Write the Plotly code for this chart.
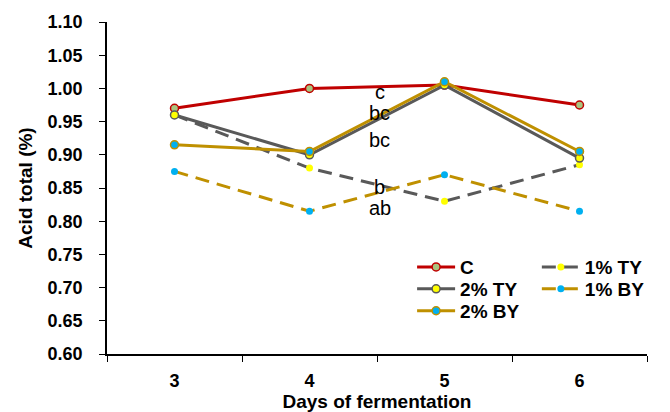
import plotly.graph_objects as go

days = ["3", "4", "5", "6"]
c_vals = [0.970, 1.000, 1.005, 0.975]
ty1_vals = [0.960, 0.880, 0.830, 0.885]
ty2_vals = [0.960, 0.900, 1.005, 0.895]
by1_vals = [0.875, 0.815, 0.870, 0.815]
by2_vals = [0.915, 0.905, 1.010, 0.905]
sig_labels = ["c", "bc", "bc", "b", "ab"]
sig_y = [0.995, 0.963, 0.922, 0.851, 0.820]
y_ticks = [0.60, 0.65, 0.70, 0.75, 0.80, 0.85, 0.90, 0.95, 1.00, 1.05, 1.10]

RED = "#C00000"
GRAY = "#595959"
GOLD = "#BF9000"
CYAN = "#00B0F0"
YEL = "#FFFF00"
GREEN = "#A9C47F"
FONT = "Liberation Sans"
DASH = "14px,8px"

fig = go.Figure()
fig.add_trace(go.Scatter(x=days, y=c_vals, name="C", mode="lines+markers", legend="legend",
                         line=dict(color=RED, width=3),
                         marker=dict(size=8, color=GREEN, line=dict(color=RED, width=1.5))))
fig.add_trace(go.Scatter(x=days, y=ty1_vals, name="1% TY", mode="lines+markers", legend="legend4",
                         line=dict(color=GRAY, width=3, dash=DASH),
                         marker=dict(size=7, color=YEL, line=dict(color=YEL, width=0))))
fig.add_trace(go.Scatter(x=days, y=ty2_vals, name="2% TY", mode="lines+markers", legend="legend2",
                         line=dict(color=GRAY, width=3),
                         marker=dict(size=8, color=YEL, line=dict(color=GRAY, width=1.5))))
fig.add_trace(go.Scatter(x=days, y=by1_vals, name="1% BY", mode="lines+markers", legend="legend5",
                         line=dict(color=GOLD, width=3, dash=DASH),
                         marker=dict(size=7, color=CYAN, line=dict(color=CYAN, width=0))))
fig.add_trace(go.Scatter(x=days, y=by2_vals, name="2% BY", mode="lines+markers", legend="legend3",
                         line=dict(color=GOLD, width=3),
                         marker=dict(size=8, color=CYAN, line=dict(color=GOLD, width=1.5))))

for lab, yv in zip(sig_labels, sig_y):
    fig.add_annotation(x=1.52, y=yv, text=lab, showarrow=False,
                       font=dict(family=FONT, size=20, color="black"),
                       xref="x", yref="y")

legend_common = dict(orientation="v", xanchor="left", yanchor="top", itemwidth=38,
                     font=dict(family=FONT, size=19, color="black", weight="bold"),
                     bgcolor="rgba(0,0,0,0)", tracegroupgap=0, itemsizing="trace")

fig.update_layout(
    width=670, height=412,
    margin=dict(l=107, r=23, t=22, b=58, autoexpand=False),
    paper_bgcolor="white", plot_bgcolor="white",
    font=dict(family=FONT, color="black"),
    showlegend=True,
    legend=dict(x=0.565, y=0.319, **legend_common),
    legend2=dict(x=0.565, y=0.253, **legend_common),
    legend3=dict(x=0.565, y=0.187, **legend_common),
    legend4=dict(x=0.796, y=0.319, **legend_common),
    legend5=dict(x=0.796, y=0.253, **legend_common),
    xaxis=dict(type="category", range=[-0.5, 3.5], tickson="boundaries", ticks="outside", ticklen=6,
               tickcolor="black", showline=True, linecolor="black", linewidth=1.5,
               showgrid=False, zeroline=False, automargin=False, ticklabelstandoff=10,
               tickfont=dict(family=FONT, size=18, color="black", weight="bold"),
               title=dict(text="Days of fermentation", standoff=2,
                          font=dict(family=FONT, size=19, color="black", weight="bold"))),
    yaxis=dict(range=[0.6, 1.1], tickvals=y_ticks, ticktext=[f"{v:.2f}" for v in y_ticks],
               ticks="outside", ticklen=6, tickcolor="black",
               showline=True, linecolor="black", linewidth=1.5,
               showgrid=False, zeroline=False, automargin=False, ticklabelstandoff=13,
               tickfont=dict(family=FONT, size=18, color="black", weight="bold"),
               title=dict(text="Acid total (%)", standoff=10,
                          font=dict(family=FONT, size=19, color="black", weight="bold"))),
)

fig.write_html("out.html", config={"displayModeBar": False},
               post_script="document.body.style.margin='0';")
